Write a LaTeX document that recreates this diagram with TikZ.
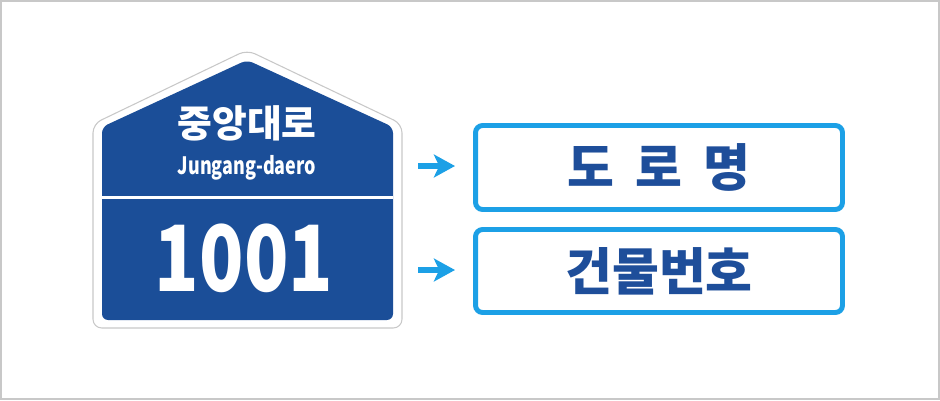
\documentclass[tikz,border=0pt]{standalone}
\usepackage{fontspec}
\usepackage{graphicx}
\usetikzlibrary{arrows.meta,positioning}
\newfontfamily\krfont{Noto Sans CJK KR}
\definecolor{signblue}{RGB}{27,78,152}
\definecolor{skyblue}{RGB}{28,160,230}
\definecolor{inkblue}{RGB}{30,78,154}
\definecolor{framegray}{RGB}{200,200,200}
\tikzset{
  tag/.style={draw=skyblue,line width=2.8pt,rounded corners=4pt,minimum width=7.34cm,minimum height=1.68cm,inner sep=0pt,text=inkblue,font=\krfont\bfseries\fontsize{29}{32}\selectfont},
  arr/.style={draw=skyblue,line width=3.4pt,-{Stealth[length=12pt,width=13pt,inset=3pt]}},
  wt/.style={text=white,inner sep=0pt}
}

\begin{document}
\begin{tikzpicture}[x=0.02cm,y=-0.02cm]
\useasboundingbox (0,0) rectangle (940,400);
% frame
\draw[framegray,line width=1.13pt,fill=white] (1,1) rectangle (939,399);
% sign
\draw[framegray,fill=white,line width=0.6pt,rounded corners=5pt] (93,124) -- (247,50) -- (402,124) -- (402,328) -- (93,328) -- cycle;
\fill[signblue,rounded corners=3.5pt] (102,127) -- (247,60) -- (393,127) -- (393,320) -- (102,320) -- cycle;
\draw[white,line width=1.7pt] (102,197) -- (393,197);
\node[wt,font=\krfont\bfseries\fontsize{21.5}{24}\selectfont] (road) at (247,123) {중앙대로};
\node[wt,font=\krfont\bfseries\fontsize{13.6}{15}\selectfont] (roman) at (247,168) {\scalebox{0.75}[1]{Jungang-daero}};
\node[wt,font=\krfont\bfseries\fontsize{52}{56}\selectfont] (num) at (244,258) {\scalebox{0.8}[1]{1001}};
% labels
\node[tag] (name) at (659,167.5) {도\hspace{12pt}로\hspace{12pt}명};
\node[tag,minimum height=1.66cm] (bldg) at (659,271) {건물번호};
\coordinate (a1) at (418,166);
\coordinate (b1) at (455,166);
\coordinate (a2) at (418,270);
\coordinate (b2) at (455,270);
\draw[arr] (a1) -- (b1);
\draw[arr] (a2) -- (b2);
\end{tikzpicture}
\end{document}
